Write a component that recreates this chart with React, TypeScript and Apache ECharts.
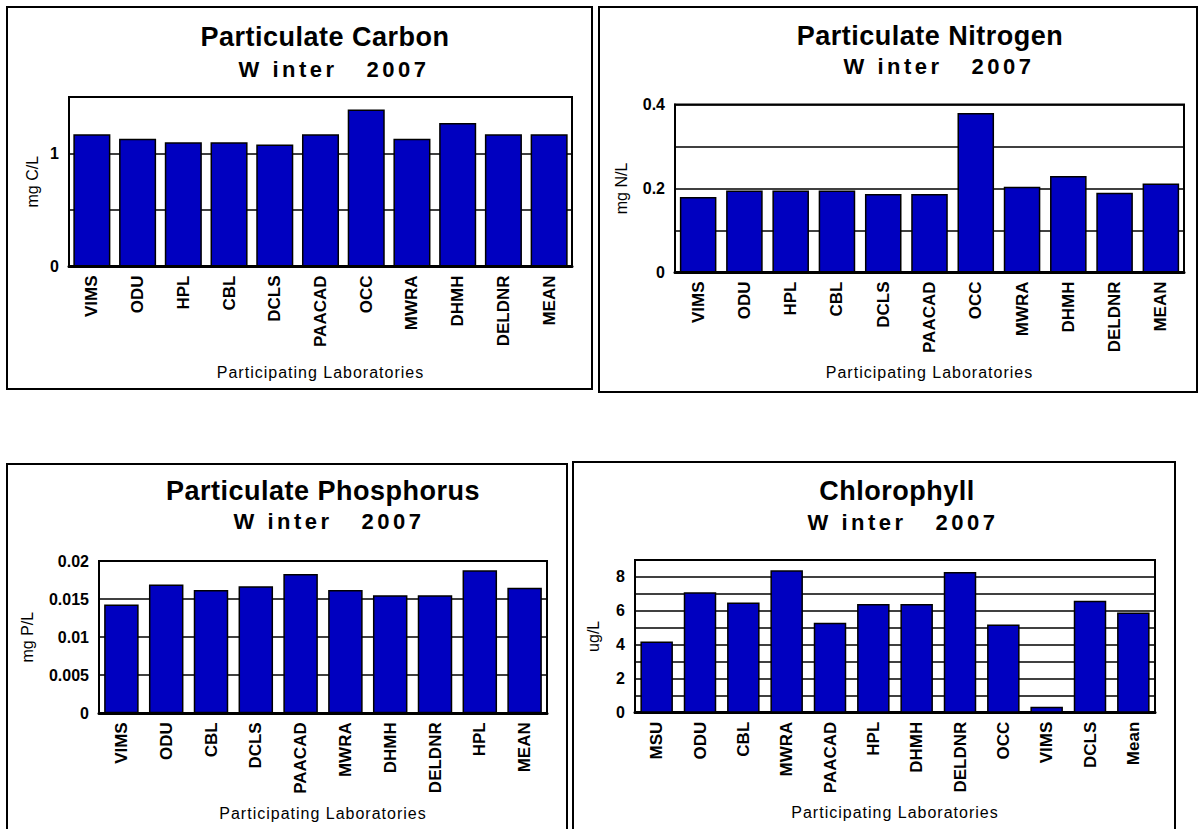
import React, { useEffect, useRef } from "react";
import * as echarts from "echarts";

// Participating laboratories and measured values, Winter 2007 split samples
const carbonLabs = ["VIMS", "ODU", "HPL", "CBL", "DCLS", "PAACAD", "OCC", "MWRA", "DHMH", "DELDNR", "MEAN"];
const carbonValues = [1.17, 1.13, 1.1, 1.1, 1.08, 1.17, 1.39, 1.13, 1.27, 1.17, 1.17];
const carbonTicks = [0, 1];

const nitrogenLabs = ["VIMS", "ODU", "HPL", "CBL", "DCLS", "PAACAD", "OCC", "MWRA", "DHMH", "DELDNR", "MEAN"];
const nitrogenValues = [0.18, 0.195, 0.195, 0.195, 0.187, 0.187, 0.38, 0.204, 0.23, 0.19, 0.212];
const nitrogenTicks = [0, 0.2, 0.4];

const phosphorusLabs = ["VIMS", "ODU", "CBL", "DCLS", "PAACAD", "MWRA", "DHMH", "DELDNR", "HPL", "MEAN"];
const phosphorusValues = [0.0143, 0.0169, 0.0162, 0.0167, 0.0183, 0.0162, 0.0155, 0.0155, 0.0188, 0.0165];
const phosphorusTicks = [0, 0.005, 0.01, 0.015, 0.02];

const chlorophyllLabs = ["MSU", "ODU", "CBL", "MWRA", "PAACAD", "HPL", "DHMH", "DELDNR", "OCC", "VIMS", "DCLS", "Mean"];
const chlorophyllValues = [4.2, 7.1, 6.5, 8.4, 5.3, 6.4, 6.4, 8.3, 5.2, 0.35, 6.6, 5.9];
const chlorophyllTicks = [0, 2, 4, 6, 8];

const subtitle = "W inter   2007";
const xName = "Participating Laboratories";

const FONT = "'Liberation Sans', Arial, sans-serif";
const BAR = "#0000C0";

type Panel = {
  title: string;
  unit: string;
  labs: string[];
  values: number[];
  ticks: number[];
  max: number;
  step: number;
  grid: { left: number; top: number; width: number; height: number };
  box: [number, number, number, number];
  titleX: number;
  titleY: number;
  subX: number;
  subY: number;
  yGap: number;
  xGap: number;
  gap: string;
};

const panels: Panel[] = [
  {
    title: "Particulate Carbon",
    unit: "mg C/L",
    labs: carbonLabs,
    values: carbonValues,
    ticks: carbonTicks,
    max: 1.5,
    step: 0.5,
    grid: { left: 69, top: 97, width: 503, height: 169.5 },
    box: [7, 7, 585, 382],
    titleX: 325,
    titleY: 23,
    subX: 334,
    subY: 58,
    yGap: 29,
    xGap: 98,
    gap: "19%",
  },
  {
    title: "Particulate Nitrogen",
    unit: "mg N/L",
    labs: nitrogenLabs,
    values: nitrogenValues,
    ticks: nitrogenTicks,
    max: 0.4,
    step: 0.1,
    grid: { left: 675, top: 104.5, width: 509, height: 168 },
    box: [599, 7, 598, 385],
    titleX: 930,
    titleY: 22,
    subX: 939,
    subY: 55,
    yGap: 46,
    xGap: 92,
    gap: "21%",
  },
  {
    title: "Particulate Phosphorus",
    unit: "mg P/L",
    labs: phosphorusLabs,
    values: phosphorusValues,
    ticks: phosphorusTicks,
    max: 0.02,
    step: 0.005,
    grid: { left: 99, top: 561, width: 448, height: 152.3 },
    box: [7, 464, 560, 400],
    titleX: 323,
    titleY: 477,
    subX: 329,
    subY: 510,
    yGap: 64,
    xGap: 92,
    gap: "23%",
  },
  {
    title: "Chlorophyll",
    unit: "ug/L",
    labs: chlorophyllLabs,
    values: chlorophyllValues,
    ticks: chlorophyllTicks,
    max: 9,
    step: 1,
    grid: { left: 635, top: 560, width: 520, height: 152.7 },
    box: [573, 462, 602, 400],
    titleX: 897,
    titleY: 477,
    subX: 903,
    subY: 511,
    yGap: 34,
    xGap: 92,
    gap: "25%",
  },
];

// Extra tracking for the wide-set headings and axis names
const tracking: Record<string, string> = {
  [subtitle]: "3.5px",
  [xName]: "1px",
};
panels.forEach((p) => {
  tracking[p.title] = "0.5px";
});

function buildOption() {
  const titles: any[] = [];
  const grids: any[] = [];
  const xAxes: any[] = [];
  const yAxes: any[] = [];
  const series: any[] = [];
  const graphics: any[] = [];

  panels.forEach((p, i) => {
    graphics.push({
      type: "rect",
      shape: { x: p.box[0], y: p.box[1], width: p.box[2], height: p.box[3] },
      style: { fill: "none", stroke: "#000", lineWidth: 2 },
      z: 0,
      silent: true,
    });
    titles.push({
      text: p.title,
      left: p.titleX,
      top: p.titleY,
      textAlign: "center",
      padding: 0,
      textStyle: { fontFamily: FONT, fontSize: 27, fontWeight: "bold", color: "#000" },
    });
    titles.push({
      text: subtitle,
      left: p.subX,
      top: p.subY,
      textAlign: "center",
      padding: 0,
      textStyle: { fontFamily: FONT, fontSize: 22, fontWeight: "bold", color: "#000" },
    });
    grids.push({
      ...p.grid,
      show: true,
      backgroundColor: "#fff",
      borderColor: "#000",
      borderWidth: 2,
      outerBoundsMode: "none",
      containLabel: false,
    });
    xAxes.push({
      type: "category",
      gridIndex: i,
      data: p.labs,
      boundaryGap: true,
      name: xName,
      nameLocation: "middle",
      nameGap: p.xGap,
      nameTextStyle: { fontFamily: FONT, fontSize: 16, color: "#000", fontWeight: "normal" },
      axisLine: { show: true, lineStyle: { color: "#000", width: 3 } },
      axisTick: { show: false },
      axisLabel: {
        rotate: 90,
        interval: 0,
        margin: 9,
        fontFamily: FONT,
        fontSize: 17,
        fontWeight: "bold",
        color: "#000",
      },
      splitLine: { show: false },
    });
    const ticks = p.ticks;
    yAxes.push({
      type: "value",
      gridIndex: i,
      min: 0,
      max: p.max,
      interval: p.step,
      name: p.unit,
      nameLocation: "middle",
      nameGap: p.yGap,
      nameRotate: 90,
      nameTextStyle: { fontFamily: FONT, fontSize: 16, color: "#000", fontWeight: "normal" },
      axisLine: { show: true, lineStyle: { color: "#000", width: 2 } },
      axisTick: { show: false },
      axisLabel: {
        margin: 10,
        fontFamily: FONT,
        fontSize: 16,
        fontWeight: "bold",
        color: "#000",
        formatter: (v: number) => {
          const t = ticks.find((k) => Math.abs(k - v) < p.step * 1e-6);
          return t === undefined ? "" : String(t);
        },
      },
      splitLine: { show: true, lineStyle: { color: "#000", width: 1.5 } },
    });
    series.push({
      type: "bar",
      xAxisIndex: i,
      yAxisIndex: i,
      data: p.values,
      barCategoryGap: p.gap,
      itemStyle: { color: BAR, borderColor: "#000", borderWidth: 1.5 },
      silent: true,
    });
  });

  return {
    animation: false,
    backgroundColor: "#fff",
    title: titles,
    grid: grids,
    xAxis: xAxes,
    yAxis: yAxes,
    series,
    graphic: graphics,
  };
}

function applyTracking(root: HTMLElement) {
  root.querySelectorAll("text").forEach((t) => {
    const s = tracking[(t.textContent || "").replace(/\u00a0/g, " ")];
    if (s) (t as SVGTextElement).style.letterSpacing = s;
  });
}

export default function App() {
  const ref = useRef<HTMLDivElement>(null);

  useEffect(() => {
    const el = ref.current;
    if (!el) return;
    const chart = echarts.init(el, undefined, { renderer: "svg" });
    chart.on("finished", () => applyTracking(el));
    chart.setOption(buildOption() as any);
    applyTracking(el);
    return () => chart.dispose();
  }, []);

  return (
    <div
      ref={ref}
      style={{ position: "fixed", left: 0, top: 0, width: 1201, height: 829, background: "#fff" }}
    />
  );
}
